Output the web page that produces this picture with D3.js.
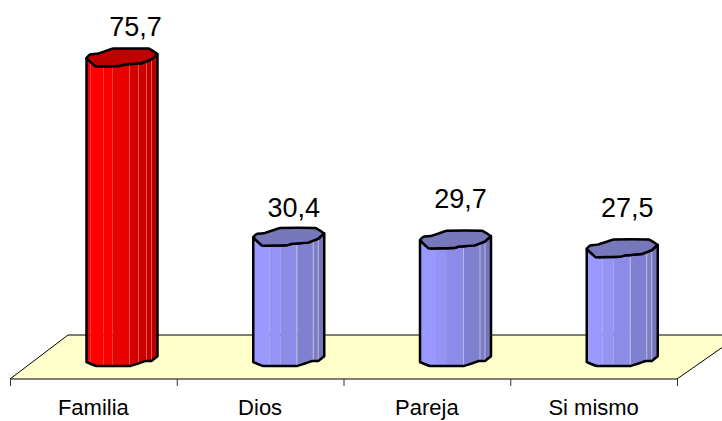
<!DOCTYPE html>
<html>
<head>
<meta charset="utf-8">
<script src="https://cdnjs.cloudflare.com/ajax/libs/d3/7.8.5/d3.min.js"></script>
<style>
  html, body { margin: 0; padding: 0; background: #fff; }
  svg { display: block; }
  text { font-family: "Liberation Sans", Arial, sans-serif; fill: #000; }
</style>
</head>
<body>
<script>
const categories = ["Familia", "Dios", "Pareja", "Si mismo"];
const values = [75.7, 30.4, 29.7, 27.5];
const highlighted = ["Familia"];

const w = 722, h = 421;
const barW = 71, barOffset = 76.5;
const floorTop = 335, floorBottom = 379;

const svg = d3.select("body").append("svg").attr("width", w).attr("height", h);

const x = d3.scaleBand().domain(categories).range([10, 677]);
const y = d3.scaleLinear().domain([0, 100]).range([366, -30]);

// floor
svg.append("path")
   .attr("d", d3.line()([[10, floorBottom], [68, floorTop], [740, floorTop], [677, floorBottom]]) + "Z")
   .attr("fill", "#ffffcc")
   .attr("stroke", "#000")
   .attr("stroke-width", 1);

// axis, ticks only between the categories
const ticks = svg.append("g").attr("transform", "translate(0," + floorBottom + ")");
ticks.selectAll("line")
     .data(categories.concat("end"))
     .enter()
     .append("line")
     .attr("x1", (d, i) => x.range()[0] + i * x.step() + 0.5)
     .attr("x2", (d, i) => x.range()[0] + i * x.step() + 0.5)
     .attr("y1", 0)
     .attr("y2", 7)
     .attr("stroke", "#333");
ticks.selectAll("text")
     .data(categories)
     .enter()
     .append("text")
     .attr("x", d => x(d) + x.bandwidth() / 2)
     .attr("y", 36)
     .attr("text-anchor", "middle")
     .style("font-size", "22px")
     .text(d => d);

// the lumpy cylinder outline, px from the bar's left edge and its front edge
const capShape = [[0,-8.3],[3.7,-11.7],[12,-12.7],[27,-17.7],[62,-17.7],[70.5,-12.3],[65,-7],[55,-3],[39,-1.8],[33,-0.3],[9,0]];
const capFront = [[71,-12.3],[65,-7],[55,-3],[39,-1.8],[33,-0.3],[9,0],[0,-8.3]];
const baseShape = [[0,-4],[10,0],[44,0],[59,-5],[65,-5],[71,-9.7]];

const redStripes = [[0,4,"#f80000"],[4,17,"#ff0000"],[17,26,"#f80000"],[26,43,"#ea0000"],[43,52,"#d20000"],[52,60,"#c80000"],[60,65,"#c00000"],[65,71,"#b80000"]];
const blueStripes = [[0,16,"#9999ff"],[16,27,"#9494f5"],[27,44,"#8c8ce8"],[44,60,"#8080d0"],[60,65,"#7c7cc8"],[65,71,"#7474b8"]];
const redSeams = [43, 52, 60, 65];
const blueSeams = [43.5, 60, 65];

const line = d3.line().curve(d3.curveCardinal.tension(0.8));
const capLine = d3.line().curve(d3.curveCardinalClosed.tension(0.8));
const defs = svg.append("defs");

const bars = svg.selectAll(".bar")
                .data(categories)
                .enter()
                .append("g")
                .attr("class", "bar")
                .attr("transform", d => "translate(" + (x(d) + barOffset) + ",0)");

bars.each(function(d, i) {
  const g = d3.select(this);
  const top = y(values[i]);
  const isRed = highlighted.includes(d);
  const base = line(baseShape.map(p => [p[0], y(0) + p[1]]));
  const front = line(capFront.map(p => [p[0], top + p[1]]));
  const outline = base + "L" + front.slice(1) + "Z";
  const id = "clip" + i;
  defs.append("clipPath").attr("id", id).append("path").attr("d", outline);

  const body = g.append("g").attr("clip-path", "url(#" + id + ")");
  body.selectAll("rect")
      .data(isRed ? redStripes : blueStripes)
      .enter()
      .append("rect")
      .attr("x", s => s[0])
      .attr("width", s => s[1] - s[0])
      .attr("y", top - 20)
      .attr("height", y(0) - top + 20)
      .attr("fill", s => s[2]);
  body.selectAll("line")
      .data(isRed ? redSeams : blueSeams)
      .enter()
      .append("line")
      .attr("x1", s => s).attr("x2", s => s)
      .attr("y1", top - 20).attr("y2", y(0))
      .attr("stroke", isRed ? "#f05050" : "#b8b8d8")
      .attr("stroke-width", 1);

  g.append("path")
   .attr("d", outline)
   .attr("fill", "none")
   .attr("stroke", "#000")
   .attr("stroke-width", 2.5)
   .attr("stroke-linejoin", "round");
  g.append("path")
   .attr("d", capLine(capShape.map(p => [p[0], top + p[1]])))
   .attr("fill", isRed ? "#c00000" : "#7777bb")
   .attr("stroke", "#000")
   .attr("stroke-width", 2.5)
   .attr("stroke-linejoin", "round");
});

// value labels sit a bit off the bars in the original
const labelNudge = [[13.5, -30], [5, -28.6], [5, -40.7], [5, -40]];
svg.selectAll(".val")
   .data(categories)
   .enter()
   .append("text")
   .attr("class", "val")
   .attr("x", (d, i) => x(d) + barOffset + barW / 2 + labelNudge[i][0])
   .attr("y", (d, i) => y(values[i]) + labelNudge[i][1])
   .attr("text-anchor", "middle")
   .style("font-size", "27px")
   .text((d, i) => String(values[i]).replace(".", ","));
</script>
</body>
</html>
